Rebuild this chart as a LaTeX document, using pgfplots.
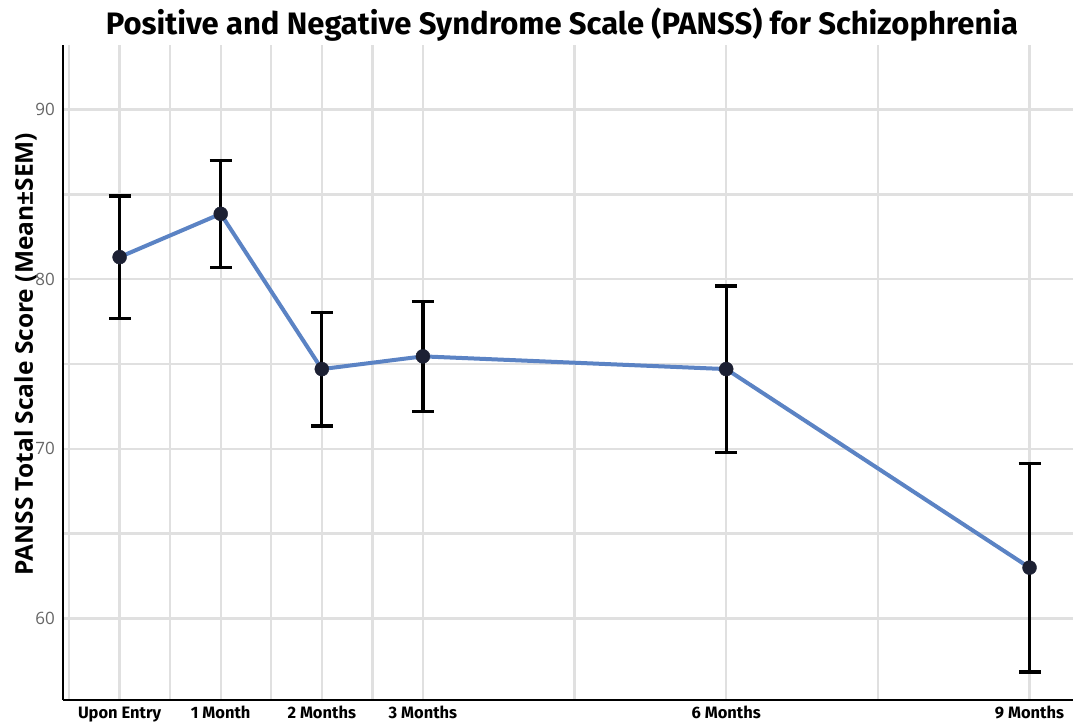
\documentclass[border=0pt]{standalone}
\usepackage{pgfplots}
\pgfplotsset{compat=1.18}
\usepackage{fontspec}
\setmainfont{Open Sans}
\newfontfamily\titlefont{Fira Sans}
\newfontfamily\labelfont{Open Sans}

\definecolor{gridgray}{HTML}{E0E0E0}
\definecolor{lineblue}{HTML}{5B83C4}
\definecolor{markdark}{HTML}{1C2033}
\definecolor{tickgray}{HTML}{666666}

% PANSS total score, mean and SEM at each follow-up month
\pgfplotstableread{
month mean sem
0 81.3 3.6
1 83.85 3.15
2 74.7 3.35
3 75.45 3.25
6 74.7 4.9
9 63.0 6.15
}\panss

\begin{document}
\begin{tikzpicture}[x=1pt,y=1pt]
\begin{axis}[
  scale only axis,
  width=1010pt, height=655pt,
  xmin=-0.56, xmax=9.43,
  ymin=55.2, ymax=93.8,
  axis lines*=left,
  axis line style={black, line width=2pt},
  separate axis lines,
  x axis line style={-}, y axis line style={-},
  xtick={0,1,2,3,6,9},
  xticklabels={Upon Entry,1 Month,2 Months,3 Months,6 Months,9 Months},
  minor xtick={-0.5,0.5,1.5,2.5,4.5,7.5},
  ytick={60,70,80,90},
  minor ytick={65,75,85},
  major tick length=0pt, minor tick length=0pt,
  grid=both,
  major grid style={gridgray, line width=2.4pt},
  minor grid style={gridgray, line width=2.4pt},
  /pgf/number format/assume math mode=true,
  xticklabel style={anchor=base, yshift=-18.5pt, font=\titlefont\bfseries\fontsize{16.5}{18}\selectfont, text=black},
  yticklabel style={anchor=east, inner sep=0pt, xshift=-8pt, font=\labelfont\fontsize{17}{18}\selectfont, text=tickgray},
  clip=false,
]
\coordinate (sw) at (rel axis cs:0,0);
\coordinate (ne) at (rel axis cs:1,1);

% trend line through the means
\addplot[lineblue, line width=4pt, no marks] table[x=month, y=mean] {\panss};

% error bars (mean +/- SEM)
\addplot[draw=none, mark=none,
  error bars/.cd, y dir=both, y explicit,
  error bar style={black, line width=3.2pt},
  error mark options={black, line width=3.2pt, mark size=11pt, rotate=90}]
  table[x=month, y=mean, y error=sem] {\panss};

% mean markers
\addplot[only marks, mark=*, mark size=7pt, mark options={fill=markdark, draw=markdark}]
  table[x=month, y=mean] {\panss};

\node[anchor=base, font=\titlefont\bfseries\fontsize{31}{33}\selectfont] at ([xshift=-6pt, yshift=10pt]rel axis cs:0.5,1) {Positive and Negative Syndrome Scale (PANSS) for Schizophrenia};
\node[anchor=base, rotate=90, font=\labelfont\bfseries\fontsize{24.5}{26}\selectfont] at ([xshift=-30pt]rel axis cs:0,0.528) {PANSS Total Scale Score (Mean±SEM)};
\end{axis}
\pgfresetboundingbox
\path[use as bounding box] ([shift={(-63pt,-23pt)}]sw) rectangle ([shift={(0pt,45pt)}]ne);
\end{tikzpicture}
\end{document}
